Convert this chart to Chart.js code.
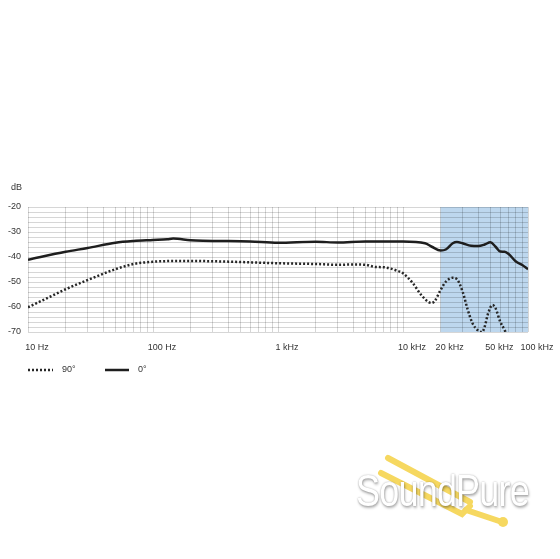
<!DOCTYPE html>
<html>
<head>
<meta charset="utf-8">
<script src="https://cdn.jsdelivr.net/npm/chart.js@4/dist/chart.umd.min.js"></script>
<style>
  html, body { margin: 0; padding: 0; background: #fff; }
  #wrap { position: relative; width: 560px; height: 559px; overflow: hidden; }
  #c { position: absolute; left: 0; top: 0; }
  #wm { position: absolute; left: 0; top: 0; width: 560px; height: 559px; pointer-events: none; }
  #wmText { position: absolute; left: 356px; top: 466px; font-family: "Liberation Sans", Arial, sans-serif;
    font-size: 45px; line-height: 50px; color: #fff; letter-spacing: -1px; white-space: nowrap;
    transform: scaleX(0.8); transform-origin: 0 0;
    text-shadow: 0 0 2px rgba(0,0,0,0.35), 1px 2px 3px rgba(0,0,0,0.3); }
</style>
</head>
<body>
<div id="wrap">
  <canvas id="c" width="560" height="559"></canvas>
  <svg id="wm" width="560" height="559">
    <g stroke="#f6d860" stroke-width="6" stroke-linecap="round" fill="none">
      <path d="M388 458 L 470 502"/>
      <path d="M381 473 L 462 514 L 470 506"/>
      <path d="M466 510 L 502 522"/>
    </g>
    <circle cx="503" cy="522" r="5" fill="#f6d860"/>
  </svg>
  <div id="wmText">SoundPure</div>
</div>
<script>
// ---- Data ----
const freq0 = [10, 20, 30, 50, 70, 100, 130, 145, 200, 250, 400, 600, 1000, 2000, 3000, 5000, 10000, 15000, 17000, 20000, 22000, 25000, 27000, 30000, 35000, 40000, 45000, 50000, 55000, 60000, 65000, 70000, 80000, 90000, 100000];
const db0   = [-41.1, -37.9, -36.4, -34.3, -33.6, -33.2, -32.9, -32.6, -33.3, -33.5, -33.6, -33.8, -34.3, -33.9, -34.2, -33.8, -33.8, -34.5, -35.9, -37.4, -37.0, -34.5, -34.0, -34.5, -35.5, -35.6, -35.0, -34.1, -35.9, -37.8, -37.9, -38.8, -41.8, -43.2, -44.9];

const freq90 = [10, 15, 20, 30, 50, 70, 100, 150, 200, 300, 500, 1000, 2000, 3000, 4000, 5000, 6000, 7000, 9000, 10000, 12000, 14000, 16000, 17000, 18000, 20000, 22000, 25000, 27000, 30000, 33000, 36000, 40000, 43000, 45000, 48000, 52000, 55000, 60000, 65000, 66000];
const db90   = [-60.1, -55.9, -52.9, -49.2, -44.9, -42.8, -41.9, -41.6, -41.6, -41.7, -42.0, -42.5, -42.8, -43.1, -43.0, -43.1, -44.0, -44.1, -45.5, -46.5, -50.5, -55.2, -58.0, -58.4, -57.5, -53.2, -49.9, -48.3, -48.9, -53.9, -61.2, -66.5, -69.5, -70.0, -67.9, -62.5, -59.2, -60.5, -65.9, -69.2, -70.0];

const seriesNames = ['90°', '0°'];
const xTickValues = [10, 100, 1000, 10000, 20000, 50000, 100000];
const xTickLabels = ['10 Hz', '100 Hz', '1 kHz', '10 kHz', '20 kHz', '50 kHz', '100 kHz'];
const yTickLabels = [-20, -30, -40, -50, -60, -70];
const shadedBand = [20000, 100000];
const yUnit = 'dB';

// gridline frequencies 1..9 x decade
const gridFreqs = [];
for (let d = 10; d < 100000; d *= 10) {
  for (let m = 1; m < 10; m++) gridFreqs.push(m * d);
}
gridFreqs.push(100000);

const FONT = '"Liberation Sans", Arial, sans-serif';
const TXT = '#333333';

const bandPlugin = {
  id: 'band',
  beforeDraw(chart) {
    const { ctx, chartArea, scales } = chart;
    const x1 = scales.x.getPixelForValue(shadedBand[0]);
    const x2 = scales.x.getPixelForValue(shadedBand[1]);
    ctx.save();
    ctx.fillStyle = '#bdd7ee';
    ctx.fillRect(x1, chartArea.top, x2 - x1, chartArea.bottom - chartArea.top);
    ctx.restore();
  }
};

const extrasPlugin = {
  id: 'extras',
  afterDraw(chart) {
    const { ctx } = chart;
    ctx.save();
    ctx.font = '9px ' + FONT;
    ctx.fillStyle = TXT;
    ctx.textBaseline = 'middle';
    ctx.textAlign = 'left';
    ctx.fillText(yUnit, 11, 188);
    // legend
    const ly = 370;
    const items = chart.data.datasets;
    const layout = [[28, 53, 62], [105, 129, 138]];
    items.forEach((ds, i) => {
      const [a, b, t] = layout[i];
      ctx.beginPath();
      ctx.strokeStyle = ds.borderColor;
      ctx.lineWidth = 2.5;
      ctx.setLineDash(ds.borderDash || []);
      ctx.moveTo(a, ly);
      ctx.lineTo(b, ly);
      ctx.stroke();
      ctx.setLineDash([]);
      ctx.fillText(ds.label, t, ly);
    });
    ctx.restore();
  }
};

new Chart(document.getElementById('c'), {
  type: 'line',
  data: {
    datasets: [
      {
        label: seriesNames[0],
        data: freq90.map((f, i) => ({ x: f, y: db90[i] })),
        borderColor: '#262626',
        borderWidth: 2.5,
        borderDash: [2, 2],
        pointRadius: 0,
        cubicInterpolationMode: 'monotone',
        fill: false
      },
      {
        label: seriesNames[1],
        data: freq0.map((f, i) => ({ x: f, y: db0[i] })),
        borderColor: '#1e1e1e',
        borderWidth: 2.5,
        pointRadius: 0,
        cubicInterpolationMode: 'monotone',
        fill: false
      }
    ]
  },
  options: {
    responsive: false,
    animation: false,
    layout: { padding: { left: 0, right: 32, top: 207, bottom: 207 } },
    plugins: { legend: { display: false }, tooltip: { enabled: false } },
    scales: {
      x: {
        type: 'logarithmic',
        min: 10,
        max: 100000,
        afterBuildTicks(scale) { scale.ticks = gridFreqs.map(v => ({ value: v })); },
        afterFit(scale) { scale.height = 20; },
        grid: { color: 'rgba(0,0,0,0.16)', lineWidth: 1, drawTicks: false },
        border: { display: false },
        ticks: {
          autoSkip: false,
          maxRotation: 0,
          minRotation: 0,
          padding: 10,
          labelOffset: 9,
          color: TXT,
          font: { family: FONT, size: 9 },
          callback(v) {
            const idx = xTickValues.indexOf(v);
            return idx >= 0 ? xTickLabels[idx] : '';
          }
        }
      },
      y: {
        min: -70,
        max: -20,
        afterBuildTicks(scale) {
          const t = [];
          for (let v = -70; v <= -20; v += 2) t.push({ value: v });
          scale.ticks = t;
        },
        afterFit(scale) { scale.width = 28; },
        grid: { color: 'rgba(0,0,0,0.16)', lineWidth: 1, drawTicks: false },
        border: { display: false },
        ticks: {
          autoSkip: false,
          padding: 7,
          color: TXT,
          font: { family: FONT, size: 9 },
          callback(v) { return yTickLabels.includes(v) ? String(v) : ''; }
        }
      }
    }
  },
  plugins: [bandPlugin, extrasPlugin]
});
</script>
</body>
</html>
